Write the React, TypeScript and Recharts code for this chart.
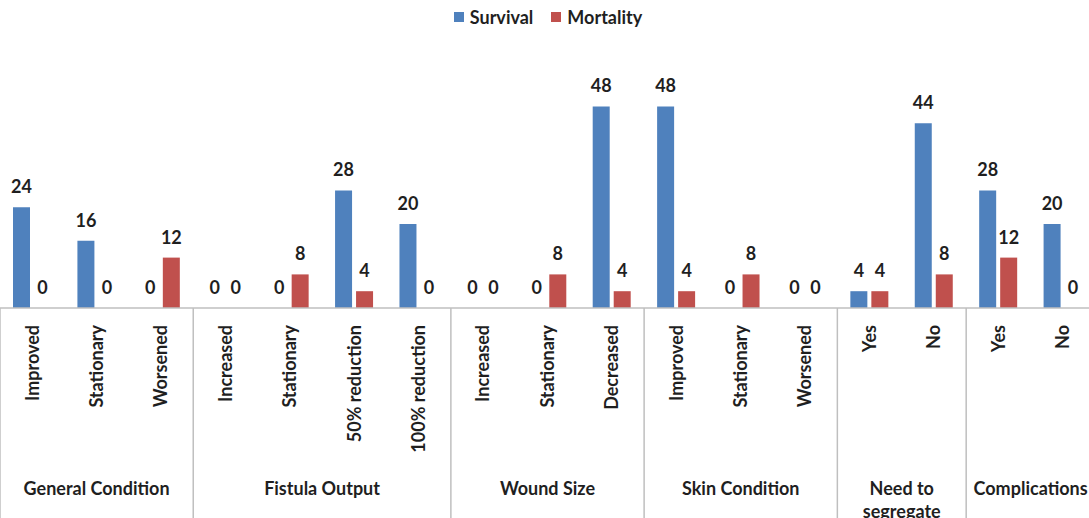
import { BarChart, Bar, XAxis, YAxis, Legend, LabelList } from "recharts";

const categories = [
  "Improved", "Stationary", "Worsened",
  "Increased", "Stationary", "50% reduction", "100% reduction",
  "Increased", "Stationary", "Decreased",
  "Improved", "Stationary", "Worsened",
  "Yes", "No",
  "Yes", "No",
];
const groupLabels = [
  ["General Condition"],
  ["Fistula Output"],
  ["Wound Size"],
  ["Skin Condition"],
  ["Need to", "segregate"],
  ["Complications"],
];
const groupSizes = [3, 4, 3, 3, 2, 2];
const survival = [24, 16, 0, 0, 0, 28, 20, 0, 0, 48, 48, 0, 0, 4, 44, 28, 20];
const mortality = [0, 0, 12, 0, 8, 4, 0, 0, 8, 4, 4, 8, 0, 4, 8, 12, 0];

const data = categories.map((c, i) => ({
  id: String(i),
  name: c,
  Survival: survival[i],
  Mortality: mortality[i],
}));

const FONT = "Lato, 'Open Sans', sans-serif";
const TEXT = "#1f1f1f";
const GRID = "#bfbfbf";
const BLUE = "#4f81bd";
const RED = "#c0504d";

const CHART_W = 1096;
const PLOT_W = 1095;
const BAND = PLOT_W / categories.length;

// index of the first category in each group
const groupStarts: number[] = [];
groupSizes.reduce((acc, n) => {
  groupStarts.push(acc);
  return acc + n;
}, 0);

const CategoryTick = (props: any) => {
  const { x, y, payload } = props;
  const i = props.index ?? Number(payload.value);
  const g = groupStarts.indexOf(i);
  return (
    <g>
      <text
        transform={`translate(${x},${y + 17}) rotate(-90)`}
        textAnchor="end"
        dy="0.35em"
        fontFamily={FONT}
        fontSize={18}
        fontWeight={700}
        fill={TEXT}
      >
        {categories[i]}
      </text>
      {g >= 0 && (
        <>
          <line
            x1={x - BAND / 2}
            x2={x - BAND / 2}
            y1={y}
            y2={y + 212}
            stroke={GRID}
            strokeWidth={1.5}
          />
          <text
            x={x + ((groupSizes[g] - 1) / 2) * BAND}
            y={y + 187}
            textAnchor="middle"
            fontFamily={FONT}
            fontSize={18}
            fontWeight={700}
            fill={TEXT}
          >
            {groupLabels[g].map((line, k) => (
              <tspan
                key={k}
                x={x + ((groupSizes[g] - 1) / 2) * BAND}
                dy={k === 0 ? 0 : 23}
              >
                {line}
              </tspan>
            ))}
          </text>
        </>
      )}
    </g>
  );
};

const LegendContent = () => (
  <div
    style={{
      display: "flex",
      justifyContent: "center",
      gap: 18,
      fontFamily: FONT,
      fontSize: 18,
      fontWeight: 700,
      color: TEXT,
    }}
  >
    {[
      { name: "Survival", color: BLUE },
      { name: "Mortality", color: RED },
    ].map((s) => (
      <span key={s.name} style={{ display: "flex", alignItems: "center" }}>
        <span
          style={{
            display: "inline-block",
            width: 10,
            height: 10,
            background: s.color,
            marginRight: 6,
          }}
        />
        {s.name}
      </span>
    ))}
  </div>
);

const labelStyle = {
  position: "top" as const,
  offset: 14,
  fontFamily: FONT,
  fontSize: 18,
  fontWeight: 700,
  fill: TEXT,
};

export default function App() {
  return (
    <div
      style={{
        position: "absolute",
        left: 0,
        top: 0,
        width: 1089,
        height: 518,
        overflow: "hidden",
        background: "#fff",
      }}
    >
      <BarChart
        width={CHART_W}
        height={518}
        data={data}
        margin={{ top: 6, right: 1, left: 0, bottom: 0 }}
        barSize={17}
        barGap={4}
      >
        <Legend
          verticalAlign="top"
          content={<LegendContent />}
          wrapperStyle={{ top: 6, left: 0, width: CHART_W, height: 50 }}
        />
        <YAxis hide domain={[0, 60]} />
        <XAxis
          dataKey="id"
          interval={0}
          height={210}
          tickLine={false}
          tickSize={0}
          tickMargin={0}
          axisLine={{ stroke: GRID, strokeWidth: 1.5 }}
          tick={<CategoryTick />}
        />
        <Bar
          dataKey="Survival"
          fill={BLUE}
          minPointSize={0.01}
          isAnimationActive={false}
        >
          <LabelList dataKey="Survival" {...labelStyle} />
        </Bar>
        <Bar
          dataKey="Mortality"
          fill={RED}
          minPointSize={0.01}
          isAnimationActive={false}
        >
          <LabelList dataKey="Mortality" {...labelStyle} />
        </Bar>
      </BarChart>
    </div>
  );
}
